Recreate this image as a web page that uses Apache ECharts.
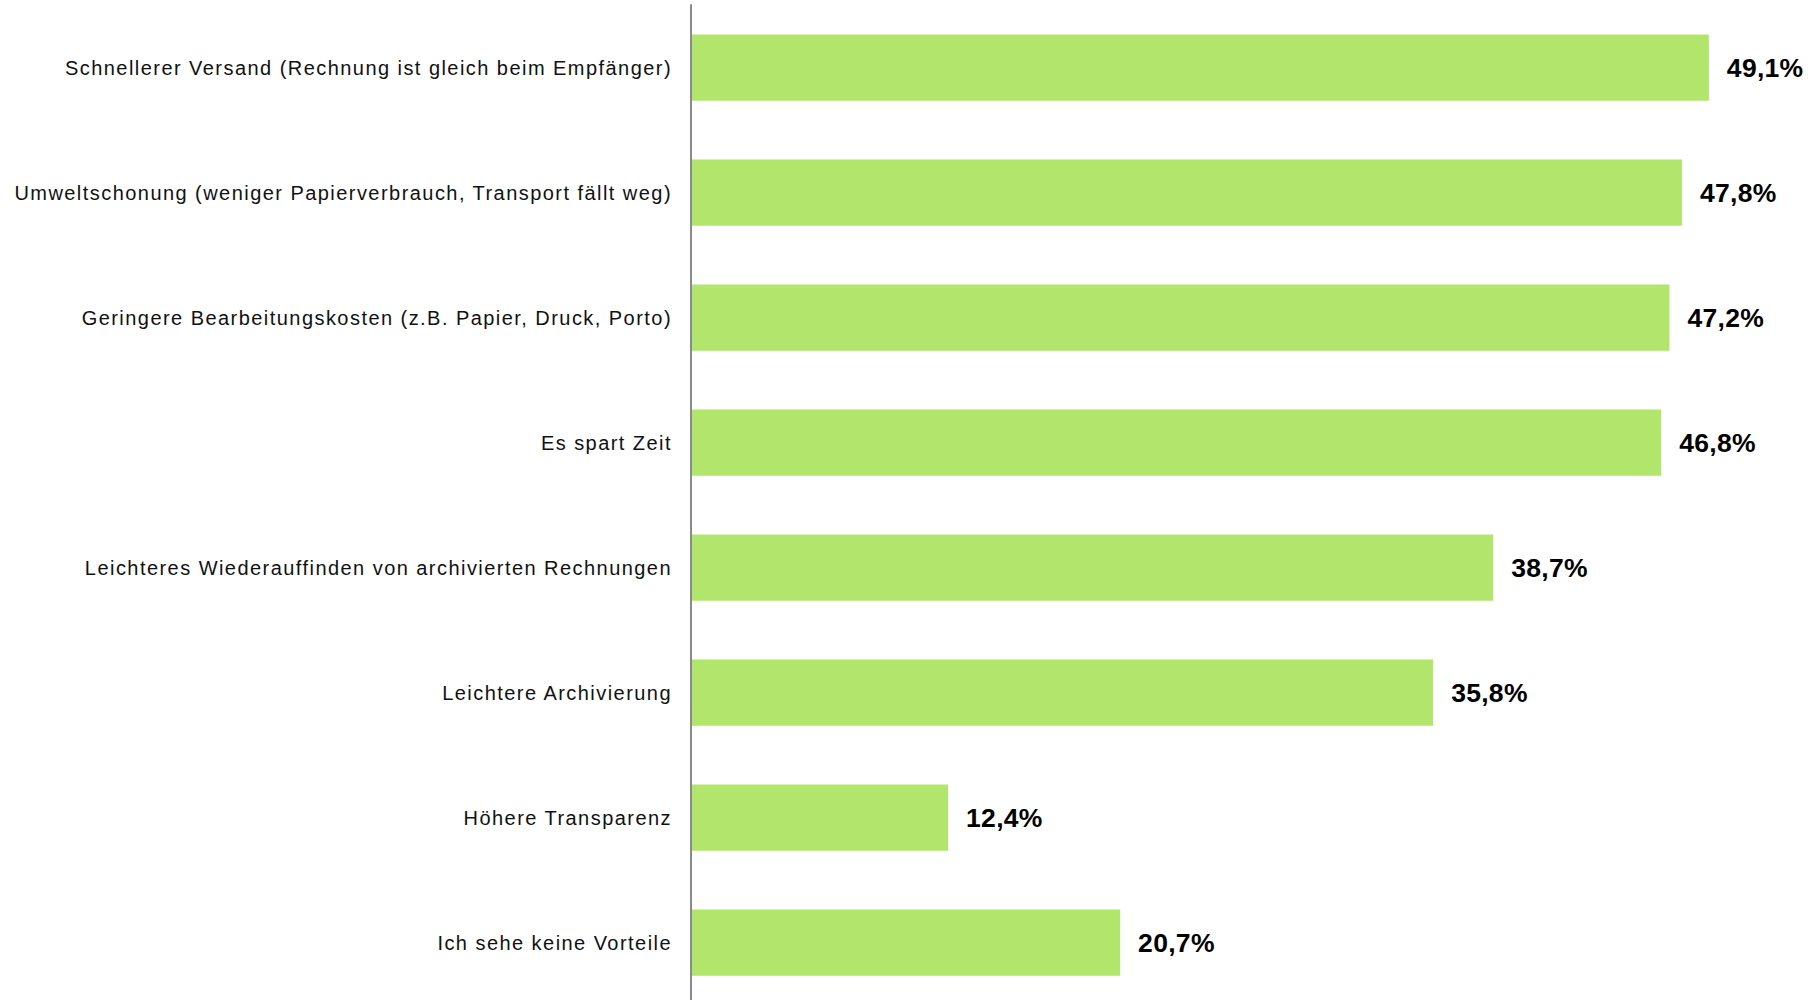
<!DOCTYPE html>
<html>
<head>
<meta charset="utf-8">
<script src="https://cdn.jsdelivr.net/npm/echarts@6/dist/echarts.min.js"></script>
<style>
  html, body { margin: 0; padding: 0; background: #ffffff; overflow: hidden; }
  /* the plot runs a few pixels past the bottom edge of the window */
  #chart { width: 1813px; height: 1010px; }
  /* category names are set slightly tracked out, value labels stay tight */
  #chart text { letter-spacing: 1.45px; }
  #chart text[style*="bold"], #chart text[font-weight="bold"] { letter-spacing: 0.3px; }
</style>
</head>
<body>
<div id="chart"></div>
<script>
// Vorteile der elektronischen Rechnung (Anteil der Befragten, in %)
const categories = [
  'Schnellerer Versand (Rechnung ist gleich beim Empfänger)',
  'Umweltschonung (weniger Papierverbrauch, Transport fällt weg)',
  'Geringere Bearbeitungskosten (z.B. Papier, Druck, Porto)',
  'Es spart Zeit',
  'Leichteres Wiederauffinden von archivierten Rechnungen',
  'Leichtere Archivierung',
  'Höhere Transparenz',
  'Ich sehe keine Vorteile'
];
const values = [49.1, 47.8, 47.2, 46.8, 38.7, 35.8, 12.4, 20.7];

const chart = echarts.init(document.getElementById('chart'), null, { renderer: 'svg' });

const fmtPercent = v => v.toFixed(1).replace('.', ',') + '%';

chart.setOption({
  animation: false,
  backgroundColor: '#ffffff',
  grid: { left: 691, top: 5, width: 1036.5, height: 1000, containLabel: false },
  xAxis: {
    type: 'value',
    min: 0,
    max: 50,
    axisLine: { show: false },
    axisTick: { show: false },
    axisLabel: { show: false },
    splitLine: { show: false }
  },
  yAxis: {
    type: 'category',
    data: categories,
    inverse: true,
    z: 5,
    axisLine: { show: true, lineStyle: { color: '#8a8a8a', width: 2 } },
    axisTick: { show: false },
    axisLabel: {
      margin: 19,
      color: '#111111',
      fontFamily: 'Liberation Sans, Arial, sans-serif',
      fontSize: 20
    },
    splitLine: { show: false }
  },
  series: [{
    type: 'bar',
    data: values,
    barCategoryGap: '47%',
    itemStyle: { color: '#b2e56b' },
    label: {
      show: true,
      position: 'right',
      distance: 18,
      color: '#000000',
      fontFamily: 'Liberation Sans, Arial, sans-serif',
      fontWeight: 'bold',
      fontSize: 26.5,
      formatter: p => fmtPercent(p.value)
    }
  }]
});
</script>
</body>
</html>
